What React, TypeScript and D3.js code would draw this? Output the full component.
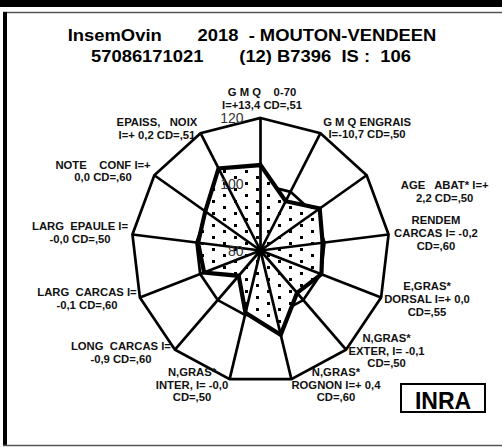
import React from 'react';
import * as d3 from 'd3';

// chart content
const titleLine1 = 'InsemOvin       2018  - MOUTON-VENDEEN';
const titleLine2 = '57086171021       (12) B7396  IS :  106';

const categories = [
  ['G M Q    0-70', 'I=+13,4 CD=,51'],
  ['G M Q ENGRAIS', 'I=-10,7 CD=,50'],
  ['AGE   ABAT* I=+', '2,2 CD=,50'],
  ['RENDEM', 'CARCAS I= -0,2', 'CD=,60'],
  ['E,GRAS*', 'DORSAL I=+ 0,0', 'CD=,55'],
  ['N,GRAS*', 'EXTER, I= -0,1', 'CD=,50'],
  ['N,GRAS*', 'ROGNON I=+ 0,4', 'CD=,60'],
  ['N,GRAS*', 'INTER, I= -0,0', 'CD=,50'],
  ['LONG  CARCAS I=', '-0,9 CD=,60'],
  ['LARG  CARCAS I=', '-0,1 CD=,60'],
  ['LARG  EPAULE I=', '-0,0 CD=,50'],
  ['NOTE    CONF I=+', '0,0 CD=,60'],
  ['EPAISS,   NOIX', 'I=+ 0,2 CD=,51'],
];

const values = [105.8, 96.8, 102.3, 99.4, 100.2, 97.1, 106.2, 99.4, 90.2, 98.7, 99.5, 100.8, 108.0];

const ticks = [80, 100, 120];
const gridRings = [100, 120];
const badge = 'INRA';

// layout
const W = 502;
const H = 447;
const cx = 260.5;
const cy = 250.5;
const rx = 129;
const ry = 132.5;
const lineH = 12.8;
const textStretch = 1.13; // the original text is drawn a bit wide
// label block position relative to its outer vertex (x centre, first line middle)
const labelOffsets = [
  [1.5, -25.5], [46.6, -11.2], [78, 10], [47.4, -13.8], [45.9, -10.8],
  [40.5, -11.4], [44.6, -7], [-37.6, -7], [-54, -3], [-52.9, -4.8],
  [-52.4, -7.8], [-51.3, -10.2], [-43.6, -10.9],
];

const font = "'Liberation Sans', Arial, sans-serif";

export default function App() {
  const n = categories.length;
  const r = d3.scaleLinear().domain([80, 120]).range([0, 1]);
  const angle = d3.scaleLinear().domain([0, n]).range([0, 2 * Math.PI]);

  const pt = (i: number, v: number): [number, number] => [
    cx + rx * r(v) * Math.sin(angle(i)),
    cy - ry * r(v) * Math.cos(angle(i)),
  ];

  const closed = d3.line().curve(d3.curveLinearClosed);
  const ringPath = (v: number) => closed(d3.range(n).map(i => pt(i, v))) as string;
  const dataPath = closed(values.map((v, i) => pt(i, v))) as string;

  return (
    <svg width={W} height={H} style={{ position: 'absolute', left: 0, top: 0, background: '#fff' }}>
      <defs>
        <pattern id="dots" patternUnits="userSpaceOnUse" width={22} height={12}>
          <rect width={22} height={12} fill="#fff" />
          <rect x={3} y={2} width={3} height={3} fill="#000" />
          <rect x={14} y={8} width={3} height={3} fill="#000" />
        </pattern>
      </defs>

      {/* frame */}
      <rect x={0} y={0} width={W} height={7} fill="#000" />
      <line x1={3} x2={W} y1={12.5} y2={12.5} stroke="#555" strokeWidth={1.5} />
      <rect x={3} y={12} width={4} height={434} fill="#000" />
      <line x1={3} x2={W} y1={445.5} y2={445.5} stroke="#555" strokeWidth={1.5} />

      {/* grid rings */}
      {gridRings.map(g => (
        <path key={g} d={ringPath(g)} fill="none" stroke="#000" strokeWidth={2.7} />
      ))}

      {/* area */}
      <path d={dataPath} fill="url(#dots)" stroke="none" />

      {/* spokes */}
      {d3.range(n).map(i => {
        const [x, y] = pt(i, 120);
        return <line key={i} x1={cx} y1={cy} x2={x} y2={y} stroke="#000" strokeWidth={2.7} />;
      })}

      {/* series line */}
      <path d={dataPath} fill="none" stroke="#000" strokeWidth={4.2} />

      {/* radial ticks */}
      {ticks.map(t => (
        <text key={t} x={cx - 17} y={cy - ry * r(t) + 5} textAnchor="end"
          fontFamily={font} fontSize={14} fill="#333">{t}</text>
      ))}

      {/* category labels */}
      {categories.map((lines, i) => {
        const [vx, vy] = pt(i, 120);
        const [dx, dy] = labelOffsets[i];
        return (
          <text key={i} transform={`translate(${vx + dx},${vy + dy}) scale(${textStretch},1)`}
            textAnchor="middle" fontFamily={font} fontWeight="bold" fontSize={10}
            fill="#111" style={{ whiteSpace: 'pre' }}>
            {lines.map((s, j) => (
              <tspan key={j} x={0} y={j * lineH + 3.6}>{s}</tspan>
            ))}
          </text>
        );
      })}

      {/* title */}
      <text transform={`translate(252,40.5) scale(1.15,1)`} textAnchor="middle" fontFamily={font}
        fontWeight="bold" fontSize={16} style={{ whiteSpace: 'pre' }}>{titleLine1}</text>
      <text transform={`translate(251,61.5) scale(1.15,1)`} textAnchor="middle" fontFamily={font}
        fontWeight="bold" fontSize={16} style={{ whiteSpace: 'pre' }}>{titleLine2}</text>

      {/* badge */}
      <rect x={401} y={384} width={84} height={28} fill="#fff" stroke="#000" strokeWidth={2} />
      <text x={443} y={408.5} textAnchor="middle" fontFamily={font} fontWeight="bold" fontSize={23}>{badge}</text>
    </svg>
  );
}
